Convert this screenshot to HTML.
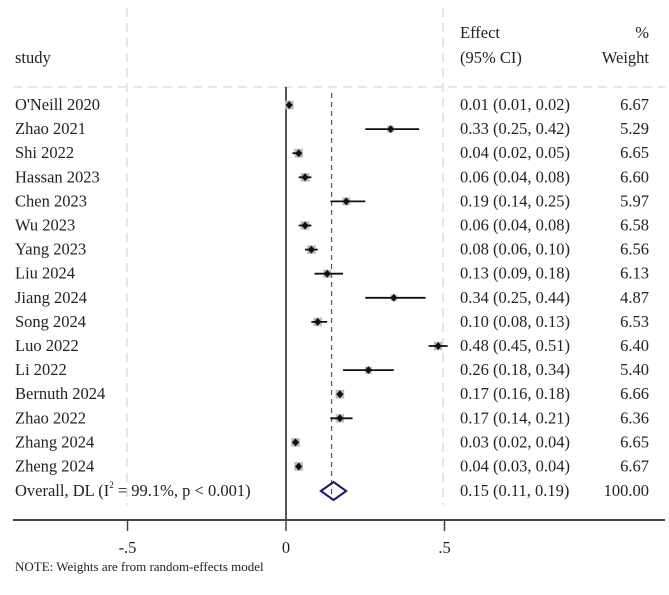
<!DOCTYPE html>
<html><head><meta charset="utf-8"><style>
body{margin:0;background:#fff}
svg text{font-family:"Liberation Serif",serif;font-size:16.5px;fill:#222}
</style></head><body>
<svg id="chart" width="669" height="590" viewBox="0 0 669 590" xmlns="http://www.w3.org/2000/svg">
<g stroke="#ddd" stroke-width="1.5" stroke-dasharray="9,6">
<line x1="127" y1="8" x2="127" y2="505"/>
<line x1="443" y1="8" x2="443" y2="505"/>
<line x1="13" y1="87" x2="665" y2="87"/>
</g>
<text x="15" y="63">study</text>
<text x="460" y="38">Effect</text>
<text x="460" y="63">(95% CI)</text>
<text x="649" y="38" text-anchor="end">%</text>
<text x="649" y="63" text-anchor="end">Weight</text>
<g id="rows"></g>
<line x1="13" y1="520" x2="665" y2="520" stroke="#444" stroke-width="2"/>
<g id="ticks"></g>
<text x="15" y="571" style="font-size:13px">NOTE: Weights are from random-effects model</text>
</svg>
<script>
const studies=["O'Neill 2020","Zhao 2021","Shi 2022","Hassan 2023","Chen 2023","Wu 2023","Yang 2023","Liu 2024","Jiang 2024","Song 2024","Luo 2022","Li 2022","Bernuth 2024","Zhao 2022","Zhang 2024","Zheng 2024"];
const effects=[0.01,0.33,0.04,0.06,0.19,0.06,0.08,0.13,0.34,0.10,0.48,0.26,0.17,0.17,0.03,0.04];
const lows=[0.01,0.25,0.02,0.04,0.14,0.04,0.06,0.09,0.25,0.08,0.45,0.18,0.16,0.14,0.02,0.03];
const highs=[0.02,0.42,0.05,0.08,0.25,0.08,0.10,0.18,0.44,0.13,0.51,0.34,0.18,0.21,0.04,0.04];
const weights=["6.67","5.29","6.65","6.60","5.97","6.58","6.56","6.13","4.87","6.53","6.40","5.40","6.66","6.36","6.65","6.67"];
const overall=[0.15,0.11,0.19];
const tickVals=[-0.5,0,0.5];
const tickLabels=["-.5","0",".5"];
const NS="http://www.w3.org/2000/svg";
const xs=v=>286+v*317;
const ys=i=>105+i*24.1;
const rows=document.getElementById('rows');
function mk(tag,at,parent){const e=document.createElementNS(NS,tag);for(const k in at)e.setAttribute(k,at[k]);(parent||rows).appendChild(e);return e;}
const f=v=>v.toFixed(2);
let z=mk('line',{x1:xs(0),y1:87,x2:xs(0),y2:520,stroke:'#555','stroke-width':2});


let o=mk('line',{x1:xs(overall[0])-2,y1:93,x2:xs(overall[0])-2,y2:500,stroke:'#a33','stroke-width':1.2,'stroke-dasharray':'5,4'});


studies.forEach((s,i)=>{
 const y=ys(i);
 const g=mk('g',{});
 
 
 const t=mk('text',{x:15,y:y+5},g);t.textContent=s;
 
 
 const w=weights[i]*1.3;
 const b=mk('rect',{x:xs(effects[i])-w/2,y:y-w/2,width:w,height:w,fill:'#bbb'},g);
 
 
 const l=mk('line',{x1:xs(lows[i]),y1:y,x2:xs(highs[i]),y2:y,stroke:'#111','stroke-width':1.8},g);
 
 
 const x=xs(effects[i]);
 const p=mk('polygon',{points:`${x},${y-4} ${x+3.5},${y} ${x},${y+4} ${x-3.5},${y}`,fill:'#111'},g);
 
 
 const e=mk('text',{x:460,y:y+5},g);e.textContent=`${f(effects[i])} (${f(lows[i])}, ${f(highs[i])})`;
 
 
 const wt=mk('text',{x:649,y:y+5,'text-anchor':'end'},g);wt.textContent=weights[i];
 
 
});
const yo=491;
const ot=mk('text',{x:15,y:yo+5});
ot.innerHTML='Overall, DL (I<tspan dy="-8" font-size="9">2</tspan><tspan dy="8"> = 99.1%, p &lt; 0.001)</tspan>';


const d=mk('polygon',{points:`${xs(overall[1])},${yo} ${xs(overall[0])},${yo-9} ${xs(overall[2])},${yo} ${xs(overall[0])},${yo+9}`,fill:'none',stroke:'#1a1a6e','stroke-width':2});


const oe=mk('text',{x:460,y:yo+5});oe.textContent=`${f(overall[0])} (${f(overall[1])}, ${f(overall[2])})`;


const ow=mk('text',{x:649,y:yo+5,'text-anchor':'end'});ow.textContent='100.00';


const tg=document.getElementById('ticks');
tickVals.forEach((v,i)=>{
 const tl=mk('line',{x1:xs(v),y1:520,x2:xs(v),y2:531,stroke:'#444','stroke-width':1.5},tg);
 
 
 const tt=mk('text',{x:xs(v),y:553,'text-anchor':'middle'},tg);tt.textContent=tickLabels[i];
 
 
});
</script>
</body></html>
